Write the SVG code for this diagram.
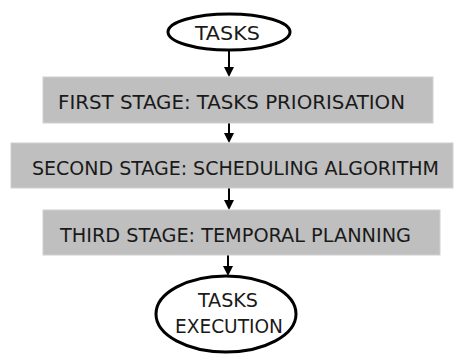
<svg xmlns="http://www.w3.org/2000/svg" width="454" height="356" viewBox="0 0 454 356">
<style>
.t{font-family:"DejaVu Sans Condensed","DejaVu Sans","Liberation Sans",sans-serif;font-size:20px;fill:#1a1a1a}
.box{fill:#bfbfbf;stroke:#d0d0d0;stroke-width:1}
.ell{fill:#fff;stroke:#000;stroke-width:3}
.c{stroke:#000;stroke-width:2;fill:none}
</style>
<rect width="454" height="356" fill="#fff"/>
<g id="connectors">
<line class="c" x1="229" y1="50" x2="229" y2="67"/>
<path d="M224,67 L234,67 L229,77 Z" fill="#000"/>
<line class="c" x1="229" y1="123" x2="229" y2="133"/>
<path d="M224,133 L234,133 L229,143 Z" fill="#000"/>
<line class="c" x1="229" y1="188" x2="229" y2="200"/>
<path d="M224,200 L234,200 L229,210 Z" fill="#000"/>
<line class="c" x1="228" y1="255" x2="228" y2="266"/>
<path d="M223,266 L233,266 L228,276 Z" fill="#000"/>
</g>
<g id="tasks">
<ellipse class="ell" cx="229" cy="32" rx="61" ry="18"/>
<text class="t" x="195" y="40" textLength="65" lengthAdjust="spacingAndGlyphs">TASKS</text>
</g>
<g id="stage1">
<rect class="box" x="43" y="77" width="390" height="46"/>
<text class="t" x="58" y="109" textLength="347" lengthAdjust="spacingAndGlyphs">FIRST STAGE: TASKS PRIORISATION</text>
</g>
<g id="stage2">
<rect class="box" x="11" y="143" width="442" height="45"/>
<text class="t" x="32" y="175" textLength="407" lengthAdjust="spacingAndGlyphs">SECOND STAGE: SCHEDULING ALGORITHM</text>
</g>
<g id="stage3">
<rect class="box" x="43" y="210" width="397" height="45"/>
<text class="t" x="60" y="242" textLength="351" lengthAdjust="spacingAndGlyphs">THIRD STAGE: TEMPORAL PLANNING</text>
</g>
<g id="execution">
<ellipse class="ell" cx="226" cy="314" rx="70" ry="38"/>
<text class="t" x="198" y="307" textLength="60" lengthAdjust="spacingAndGlyphs">TASKS</text>
<text class="t" x="175" y="333" textLength="108" lengthAdjust="spacingAndGlyphs">EXECUTION</text>
</g>
</svg>
